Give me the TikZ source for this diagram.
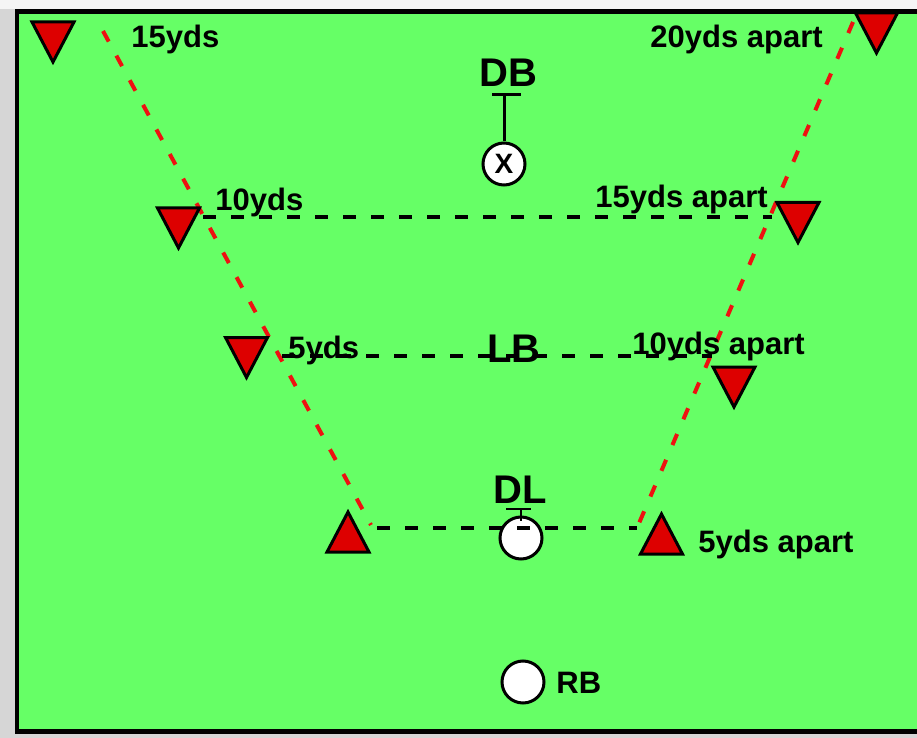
\documentclass[tikz,border=0pt]{standalone}
\usepackage{fontspec}
\setsansfont{Liberation Sans}
\definecolor{turf}{HTML}{66FF66}
\definecolor{conered}{HTML}{DD0000}
\definecolor{laneline}{HTML}{EE1111}
\definecolor{margin}{HTML}{D6D6D6}

\begin{document}
\begin{tikzpicture}[
  x=0.5pt, y=-0.5pt,
  font=\sffamily\bfseries,
  cone/.style={draw=black, fill=conered, line width=1.5pt},
  player/.style={
    circle, draw=black, fill=white, line width=1.5pt,
    minimum size=21pt, inner sep=0pt
  },
  yard/.style={anchor=base west, inner sep=0pt,
    font=\sffamily\bfseries\fontsize{15.5}{18}\selectfont},
  role/.style={anchor=base west, inner sep=0pt,
    font=\sffamily\bfseries\fontsize{20}{24}\selectfont},
  lane/.style={draw=laneline, line width=2pt, dash pattern=on 6pt off 8pt},
  gapline/.style={draw=black, line width=2pt, dash pattern=on 6.5pt off 7.5pt},
  conedown/.pic={\path[cone] (-21,-20) -- (21,-20) -- (0,20) -- cycle;},
  coneup/.pic={\path[cone] (-21,20) -- (21,20) -- (0,-20) -- cycle;}
]
  \useasboundingbox (0,0) rectangle (917,738);
  \clip (0,0) rectangle (917,738);

  % field
  \fill[margin] (0,0) rectangle (917,738);
  \fill[gray!8] (0,0) rectangle (917,9);
  \draw[line width=2.25pt, fill=turf] (17,11.5) rectangle (940,731.5);

  % funnel edges
  \coordinate (ltop) at (103,31);
  \coordinate (lbot) at (371,525);
  \coordinate (rtop) at (853,22);
  \coordinate (rbot) at (637,528);
  \draw[lane] (ltop) -- (lbot);
  \draw[lane] (rtop) -- (rbot);

  % players
  \node[player] (db) at (504,164) {\fontsize{14}{14}\selectfont X};
  \node[player] (dl) at (521,538) {};
  \node[player] (rb) at (523,682) {};
  \coordinate (dbcap) at (504,95);
  \draw[line width=1.5pt] (dbcap) -- (db.north);
  \draw[line width=1.5pt] ([xshift=-6pt]dbcap) -- ([xshift=8.5pt]dbcap);
  \coordinate (dlcap) at (521,509);
  \coordinate (dlstem) at (521,521);
  \draw[line width=0.75pt] (dlcap) -- (dlstem);
  \draw[line width=0.75pt] ([xshift=-7.5pt]dlcap) -- ([xshift=5pt]dlcap);

  % yard lines across the funnel
  \coordinate (g1a) at (203,217);
  \coordinate (g1b) at (772,217);
  \coordinate (g2a) at (282,356);
  \coordinate (g2b) at (712,356);
  \coordinate (g3a) at (377,528);
  \coordinate (g3b) at (637,528);
  \draw[gapline] (g1a) -- (g1b);
  \draw[gapline] (g2a) -- (g2b);
  \draw[gapline] (g3a) -- (g3b);

  % cones
  \pic at (53,42) {conedown};
  \pic at (178.5,228) {conedown};
  \pic at (246.5,357.5) {conedown};
  \pic at (876.5,33) {conedown};
  \pic at (798,222.5) {conedown};
  \pic at (734,387) {conedown};
  \pic at (348,532) {coneup};
  \pic at (661.5,534) {coneup};

  % distances
  \node[yard] (d15) at (131,48) {15yds};
  \node[yard] (d10) at (215,211) {10yds};
  \node[yard] (d5) at (288,358) {5yds};
  \node[yard] (w20) at (650,48) {20yds apart};
  \node[yard] (w15) at (595,207) {15yds apart};
  \node[yard] (w10) at (632,354) {10yds apart};
  \node[yard] (w5) at (698,552) {5yds apart};

  % positions
  \node[role] (dbtxt) at (479,87) {DB};
  \node[role] (lbtxt) at (487,363) {LB};
  \node[role] (dltxt) at (493,503) {DL};
  \node[yard] (rbtxt) at (556,693) {RB};
\end{tikzpicture}
\end{document}
